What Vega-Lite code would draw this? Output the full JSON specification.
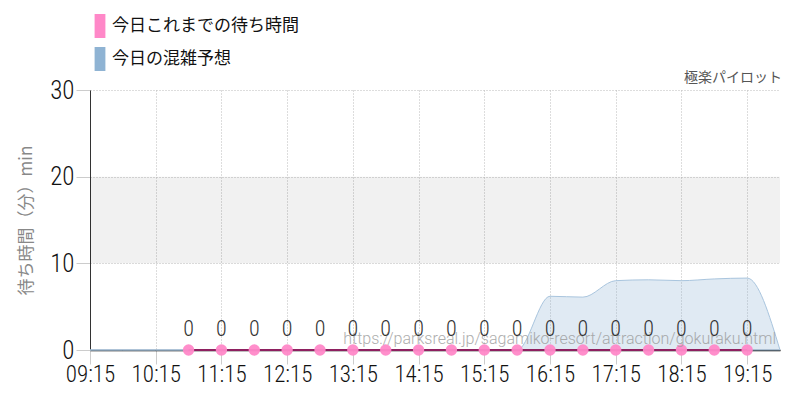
{
  "$schema": "https://vega.github.io/schema/vega-lite/v6.json",
  "width": 690,
  "height": 260,
  "autosize": {"type": "none"},
  "padding": {"left": 90, "top": 90, "right": 20, "bottom": 50},
  "background": "white",
  "config": {
    "font": "Noto Sans CJK JP",
    "view": {"stroke": null}
  },
  "title": {
    "text": "極楽パイロット",
    "anchor": "end",
    "orient": "top",
    "fontSize": 14,
    "fontWeight": "normal",
    "color": "#555555",
    "font": "Noto Sans CJK JP",
    "offset": 4,
    "dy": 75
  },
  "datasets": {
    "band": [{}],
    "forecast": [
      {"time": "2024-05-01 09:15", "value": 0},
      {"time": "2024-05-01 09:45", "value": 0},
      {"time": "2024-05-01 10:15", "value": 0},
      {"time": "2024-05-01 10:45", "value": 0},
      {"time": "2024-05-01 11:15", "value": 0},
      {"time": "2024-05-01 11:45", "value": 0},
      {"time": "2024-05-01 12:15", "value": 0},
      {"time": "2024-05-01 12:45", "value": 0},
      {"time": "2024-05-01 13:15", "value": 0},
      {"time": "2024-05-01 13:45", "value": 0},
      {"time": "2024-05-01 14:15", "value": 0},
      {"time": "2024-05-01 14:45", "value": 0},
      {"time": "2024-05-01 15:15", "value": 0},
      {"time": "2024-05-01 15:45", "value": 0},
      {"time": "2024-05-01 16:15", "value": 6.2},
      {"time": "2024-05-01 16:45", "value": 6.1},
      {"time": "2024-05-01 17:15", "value": 8.0},
      {"time": "2024-05-01 17:45", "value": 8.1},
      {"time": "2024-05-01 18:15", "value": 8.0},
      {"time": "2024-05-01 18:45", "value": 8.2},
      {"time": "2024-05-01 19:15", "value": 8.3},
      {"time": "2024-05-01 19:45", "value": 0}
    ],
    "actual": [
      {"time": "2024-05-01 10:45", "value": 0},
      {"time": "2024-05-01 11:15", "value": 0},
      {"time": "2024-05-01 11:45", "value": 0},
      {"time": "2024-05-01 12:15", "value": 0},
      {"time": "2024-05-01 12:45", "value": 0},
      {"time": "2024-05-01 13:15", "value": 0},
      {"time": "2024-05-01 13:45", "value": 0},
      {"time": "2024-05-01 14:15", "value": 0},
      {"time": "2024-05-01 14:45", "value": 0},
      {"time": "2024-05-01 15:15", "value": 0},
      {"time": "2024-05-01 15:45", "value": 0},
      {"time": "2024-05-01 16:15", "value": 0},
      {"time": "2024-05-01 16:45", "value": 0},
      {"time": "2024-05-01 17:15", "value": 0},
      {"time": "2024-05-01 17:45", "value": 0},
      {"time": "2024-05-01 18:15", "value": 0},
      {"time": "2024-05-01 18:45", "value": 0},
      {"time": "2024-05-01 19:15", "value": 0}
    ],
    "note": [
      {"time": "2024-05-01 19:45", "value": 0, "text": "https://parksreal.jp/sagamiko-resort/attraction/gokuraku.html"}
    ]
  },
  "layer": [
    {
      "data": {"name": "band"},
      "mark": {"type": "rect", "color": "#000000", "opacity": 0.055},
      "encoding": {
        "y": {"datum": 10, "type": "quantitative", "scale": {"domain": [0, 30], "nice": false}},
        "y2": {"datum": 20}
      }
    },
    {
      "data": {"name": "forecast"},
      "mark": {"type": "area", "interpolate": "monotone", "fillOpacity": 0.28, "stroke": "#a9c5de", "strokeWidth": 1},
      "encoding": {
        "x": {
          "field": "time",
          "type": "temporal",
          "scale": {"domain": [{"year": 2024, "month": 5, "date": 1, "hours": 9, "minutes": 15}, {"year": 2024, "month": 5, "date": 1, "hours": 19, "minutes": 45}]},
          "axis": {
            "values": [
              {"year": 2024, "month": 5, "date": 1, "hours": 9, "minutes": 15},
              {"year": 2024, "month": 5, "date": 1, "hours": 9, "minutes": 45},
              {"year": 2024, "month": 5, "date": 1, "hours": 10, "minutes": 15},
              {"year": 2024, "month": 5, "date": 1, "hours": 10, "minutes": 45},
              {"year": 2024, "month": 5, "date": 1, "hours": 11, "minutes": 15},
              {"year": 2024, "month": 5, "date": 1, "hours": 11, "minutes": 45},
              {"year": 2024, "month": 5, "date": 1, "hours": 12, "minutes": 15},
              {"year": 2024, "month": 5, "date": 1, "hours": 12, "minutes": 45},
              {"year": 2024, "month": 5, "date": 1, "hours": 13, "minutes": 15},
              {"year": 2024, "month": 5, "date": 1, "hours": 13, "minutes": 45},
              {"year": 2024, "month": 5, "date": 1, "hours": 14, "minutes": 15},
              {"year": 2024, "month": 5, "date": 1, "hours": 14, "minutes": 45},
              {"year": 2024, "month": 5, "date": 1, "hours": 15, "minutes": 15},
              {"year": 2024, "month": 5, "date": 1, "hours": 15, "minutes": 45},
              {"year": 2024, "month": 5, "date": 1, "hours": 16, "minutes": 15},
              {"year": 2024, "month": 5, "date": 1, "hours": 16, "minutes": 45},
              {"year": 2024, "month": 5, "date": 1, "hours": 17, "minutes": 15},
              {"year": 2024, "month": 5, "date": 1, "hours": 17, "minutes": 45},
              {"year": 2024, "month": 5, "date": 1, "hours": 18, "minutes": 15},
              {"year": 2024, "month": 5, "date": 1, "hours": 18, "minutes": 45},
              {"year": 2024, "month": 5, "date": 1, "hours": 19, "minutes": 15},
              {"year": 2024, "month": 5, "date": 1, "hours": 19, "minutes": 45}
            ],
            "labelExpr": "minutes(datum.value) == 15 ? timeFormat(datum.value, '%H:%M') : ''",
            "title": null,
            "grid": true,
            "gridColor": "#bbbbbb",
            "gridDash": {"condition": {"test": "minutes(datum.value) == 45", "value": [4, 4]}, "value": [1, 2]},
            "tickColor": {"condition": {"test": "minutes(datum.value) == 45", "value": "transparent"}, "value": "#cccccc"},
            "tickSize": 14,
            "domainColor": "#000000",
            "domainWidth": 1.5,
            "labelFont": "Roboto Condensed",
            "labelFontSize": 23,
            "labelFontWeight": 300,
            "labelColor": "#111111",
            "labelPadding": -1,
            "labelFlush": false,
            "labelOverlap": false
          }
        },
        "y": {
          "field": "value",
          "type": "quantitative",
          "scale": {"domain": [0, 30], "nice": false},
          "axis": {
            "values": [0, 10, 20, 30],
            "title": "待ち時間（分）min",
            "titleFont": "Noto Sans CJK JP",
            "titleFontSize": 17,
            "titleFontWeight": "normal",
            "titleColor": "#888888",
            "titlePadding": 14,
            "grid": true,
            "gridColor": "#bbbbbb",
            "gridDash": [1, 2],
            "tickColor": "#cccccc",
            "tickSize": 14,
            "domainColor": "#333333",
            "labelFont": "Roboto Condensed",
            "labelFontSize": 25,
            "labelFontWeight": 300,
            "labelColor": "#111111",
            "labelPadding": 2
          }
        },
        "color": {
          "datum": "今日の混雑予想",
          "type": "nominal",
          "scale": {"domain": ["今日これまでの待ち時間", "今日の混雑予想"], "range": ["#ff88c8", "#8fb3d3"]},
          "legend": {
            "orient": "none",
            "legendX": -2,
            "legendY": -76,
            "title": null,
            "symbolType": "M-0.45,-1 h0.9 v2 h-0.9 Z",
            "symbolSize": 576,
            "symbolOpacity": 1,
            "symbolStrokeWidth": 0,
            "labelFont": "Noto Sans CJK JP",
            "labelFontSize": 17,
            "labelColor": "#111111",
            "labelLimit": 400,
            "labelOffset": 0,
            "rowPadding": 9,
            "padding": 0
          }
        }
      }
    },
    {
      "data": {"name": "actual"},
      "mark": {"type": "line", "color": "#8e2060", "strokeWidth": 2},
      "encoding": {
        "x": {"field": "time", "type": "temporal"},
        "y": {"field": "value", "type": "quantitative"}
      }
    },
    {
      "data": {"name": "actual"},
      "mark": {"type": "point", "filled": true, "size": 130, "opacity": 0.95},
      "encoding": {
        "x": {"field": "time", "type": "temporal"},
        "y": {"field": "value", "type": "quantitative"},
        "color": {"datum": "今日これまでの待ち時間", "type": "nominal"}
      }
    },
    {
      "data": {"name": "note"},
      "mark": {"type": "text", "align": "right", "baseline": "bottom", "dx": -4, "dy": -3, "fontSize": 16, "fontWeight": 300, "color": "#999999", "opacity": 0.8, "font": "Roboto"},
      "encoding": {
        "x": {"field": "time", "type": "temporal"},
        "y": {"field": "value", "type": "quantitative"},
        "text": {"field": "text"}
      }
    },
    {
      "data": {"name": "actual"},
      "mark": {"type": "text", "baseline": "bottom", "dy": -9, "fontSize": 22, "fontWeight": 300, "color": "#333333", "font": "Roboto Condensed"},
      "encoding": {
        "x": {"field": "time", "type": "temporal"},
        "y": {"field": "value", "type": "quantitative"},
        "text": {"field": "value", "type": "quantitative"}
      }
    }
  ]
}
